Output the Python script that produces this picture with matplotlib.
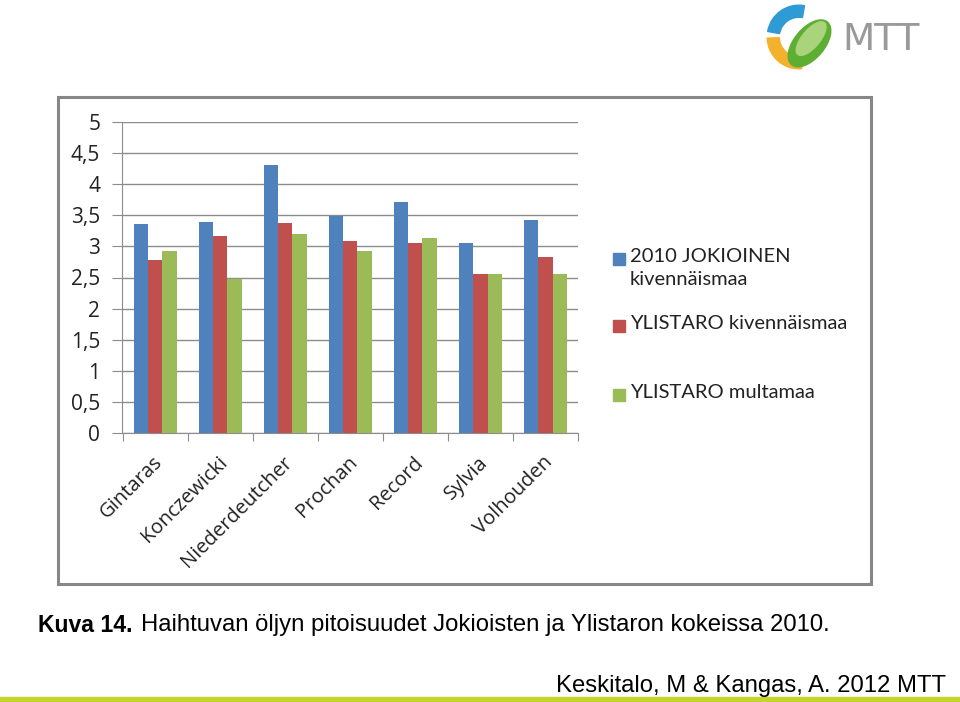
import numpy as np
import matplotlib.pyplot as plt
from matplotlib.patches import Rectangle, Wedge, Ellipse

# data
lajikkeet = ['Gintaras', 'Konczewicki', 'Niederdeutcher', 'Prochan', 'Record', 'Sylvia', 'Volhouden']
jokioinen_kiv = [3.36, 3.39, 4.31, 3.49, 3.72, 3.06, 3.42]
ylistaro_kiv = [2.78, 3.17, 3.37, 3.08, 3.06, 2.56, 2.83]
ylistaro_multa = [2.92, 2.47, 3.20, 2.92, 3.13, 2.56, 2.56]
sarjat = ['2010 JOKIOINEN\nkivennäismaa', 'YLISTARO kivennäismaa', 'YLISTARO multamaa']
varit = ['#4F81BD', '#C0504D', '#9BBB59']
y_ticks = [0, 0.5, 1, 1.5, 2, 2.5, 3, 3.5, 4, 4.5, 5]

fig = plt.figure(figsize=(9.6, 7.02), dpi=100)
W, H = 960, 702

def fx(px):
    return px / W

def fy(py):
    return 1 - py / H

# outer frame of the chart
fig.add_artist(Rectangle((fx(58), fy(584)), fx(871) - fx(58), fy(97) - fy(584),
                         transform=fig.transFigure, fill=False,
                         edgecolor='#878787', linewidth=2.2))

ax = fig.add_axes([fx(122.5), fy(433), fx(578) - fx(122.5), fy(122) - fy(433)])
x = np.arange(len(lajikkeet))
leveys = 0.22
for i, (arvot, vari) in enumerate(zip([jokioinen_kiv, ylistaro_kiv, ylistaro_multa], varit)):
    ax.bar(x + (i - 1) * leveys, arvot, width=leveys, color=vari, zorder=3)

ax.set_xlim(-0.5, len(lajikkeet) - 0.5)
ax.set_ylim(0, 5)
ax.set_yticks(y_ticks)
ax.set_yticklabels([str(t).replace('.', ',') if t % 1 else str(int(t)) for t in y_ticks],
                   family='Open Sans', fontsize=15, color='#222222')
ax.grid(axis='y', color='#8c8c8c', linewidth=1, zorder=0)
ax.tick_params(axis='y', length=7, color='#8c8c8c', pad=9)

# category boundary ticks on x-axis
ax.set_xticks(np.arange(len(lajikkeet) + 1) - 0.5)
ax.set_xticklabels([])
ax.tick_params(axis='x', length=6, color='#8c8c8c')
ax.set_xticks(x - 0.04, minor=True)
ax.set_xticklabels(lajikkeet, minor=True, rotation=45, ha='right', va='top',
                   rotation_mode='anchor', family='Open Sans', fontsize=14.5, color='#222222')
ax.tick_params(axis='x', which='minor', length=0, pad=14)

for s in ['top', 'right']:
    ax.spines[s].set_visible(False)
for s in ['left', 'bottom']:
    ax.spines[s].set_color('#8c8c8c')

# legend
leg_y = [259, 326, 395]
for nimi, vari, yy in zip(sarjat, varit, leg_y):
    fig.add_artist(Rectangle((fx(613), fy(yy + 6)), fx(12), 12 / H,
                             transform=fig.transFigure, color=vari))
    fig.text(fx(630), fy(yy - 11), nimi, family='Lato', fontsize=14.5,
             color='#222222', va='top', ha='left', linespacing=1.45)

# caption, sized to the width it takes in the original
renderer = fig.canvas.get_renderer()
t1 = fig.text(fx(38), fy(625), 'Kuva 14.', family='Liberation Sans', fontsize=10,
              weight='bold', va='center', ha='left', color='black')
t2 = fig.text(fx(141), fy(625), 'Haihtuvan öljyn pitoisuudet Jokioisten ja Ylistaron kokeissa 2010.',
              family='Liberation Sans', fontsize=10, va='center', ha='left', color='black')
t3 = fig.text(fx(946), fy(686), 'Keskitalo, M & Kangas, A. 2012 MTT',
              family='Liberation Sans', fontsize=10, va='center', ha='right', color='black')
for t, leveys_px in [(t1, 95), (t2, 689), (t3, 390)]:
    w = t.get_window_extent(renderer).width
    t.set_fontsize(min(10 * leveys_px / w, 19))

# green strip at the bottom
fig.add_artist(Rectangle((0, 0), 1, 5 / H, transform=fig.transFigure,
                         color='#C6D52B'))

# logo
lax = fig.add_axes([fx(764), fy(72), fx(70), 70 / H])
lax.set_xlim(-1.1, 1.1)
lax.set_ylim(-1.1, 1.1)
lax.set_aspect('equal')
lax.axis('off')
lax.add_patch(Wedge((0, 0), 1.0, 80, 170, width=0.38, color='#2E9AD6'))
lax.add_patch(Wedge((0, 0), 1.0, 182, 275, width=0.38, color='#F4B12E'))
lax.add_patch(Ellipse((0.33, -0.2), 1.75, 0.95, angle=50, color='#5EAE32'))
lax.add_patch(Ellipse((0.38, -0.05), 1.3, 0.55, angle=50, color='#A9D47C'))
fig.text(fx(842), fy(40), 'MTT', family='DejaVu Sans', fontsize=27,
         color='#9a9a9a', va='center', ha='left')

fig.savefig('out.png', dpi=100)
